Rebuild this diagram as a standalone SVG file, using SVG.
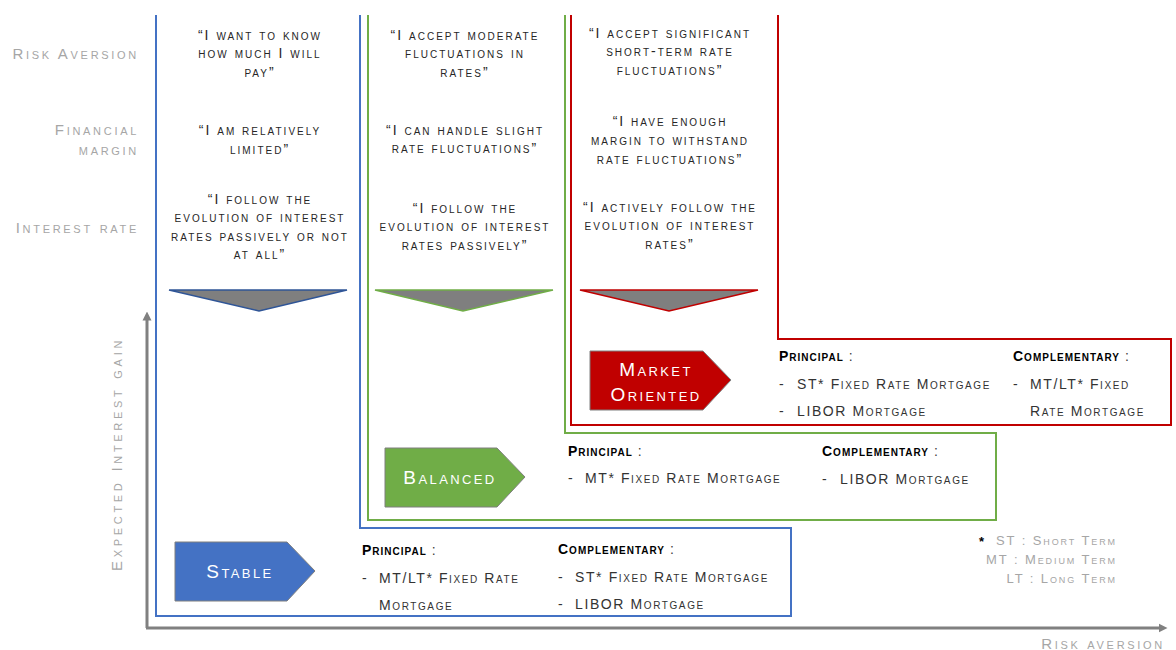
<svg xmlns="http://www.w3.org/2000/svg" width="1176" height="650" viewBox="0 0 1176 650">
<defs>
<marker id="ah" viewBox="0 0 10 10" refX="5" refY="5" markerWidth="3" markerHeight="3.4" orient="auto" markerUnits="strokeWidth">
<path d="M0,0 L10,5 L0,10 Z" fill="#808080"/>
</marker>
</defs>
<style>
text{font-family:"Liberation Sans",Arial,sans-serif;font-variant:small-caps}
.lbl{font-size:15px;fill:#a6a6a6;letter-spacing:2.7px;text-anchor:end}
.q{font-size:14px;fill:#262626;letter-spacing:2px;text-anchor:middle}
.t{font-size:14px;fill:#333;letter-spacing:1.6px}
.h{font-size:14px;font-weight:bold;fill:#000;letter-spacing:1px}
.c{font-size:14px;fill:#404040;font-weight:normal}
.w{font-size:19px;fill:#fff;letter-spacing:2.4px;text-anchor:middle}
.leg{font-size:13px;fill:#a6a6a6;letter-spacing:1.9px;text-anchor:end}
.ol{fill:none;stroke-width:2}
.tri{fill:#7f7f7f;stroke-width:1.5}
.pent{stroke:#7f7f7f;stroke-width:1}
.ax{stroke:#808080;stroke-width:3;fill:none}
</style>
<rect width="1176" height="650" fill="#fff"/>

<g id="axes">
<line class="ax" x1="147" y1="628" x2="147" y2="316" marker-end="url(#ah)"/>
<line class="ax" x1="146" y1="628" x2="1163" y2="628" marker-end="url(#ah)"/>
<text class="lbl" x="1165" y="649">Risk aversion</text>
<text class="lbl" transform="translate(122,454) rotate(-90)" style="text-anchor:middle;letter-spacing:3.7px">Expected Interest gain</text>
</g>

<g id="row-labels">
<text class="lbl" x="139" y="59">Risk Aversion</text>
<text class="lbl" x="139" y="135">Financial</text>
<text class="lbl" x="139" y="155">margin</text>
<text class="lbl" x="139" y="233">Interest rate</text>
</g>

<g id="connectors">
<path class="ol" stroke="#4472c4" d="M156,15 V616 H791 V528 H360 V15"/>
<path class="ol" stroke="#70ad47" d="M368,15 V520 H996 V433 H565 V15"/>
<path class="ol" stroke="#c00000" d="M571,15 V425 H1171 V339 H778 V15"/>
<polygon class="tri" stroke="#2f5597" points="169,290 347,290 259,311"/>
<polygon class="tri" stroke="#70ad47" points="375,290 553,290 463,311"/>
<polygon class="tri" stroke="#c00000" points="580,290 758,290 669,311"/>
</g>

<g id="stable-quotes">
<text class="q" x="260" y="40">“I want to know</text>
<text class="q" x="260" y="58">how much I will</text>
<text class="q" x="260" y="77">pay”</text>
<text class="q" x="260" y="135">“I am relatively</text>
<text class="q" x="260" y="154">limited”</text>
<text class="q" x="260" y="204">“I follow the</text>
<text class="q" x="260" y="222">evolution of interest</text>
<text class="q" x="260" y="241">rates passively or not</text>
<text class="q" x="260" y="259">at all”</text>
</g>

<g id="balanced-quotes">
<text class="q" x="465" y="40">“I accept moderate</text>
<text class="q" x="465" y="58">fluctuations in</text>
<text class="q" x="465" y="77">rates”</text>
<text class="q" x="465" y="135">“I can handle slight</text>
<text class="q" x="465" y="153">rate fluctuations”</text>
<text class="q" x="465" y="213">“I follow the</text>
<text class="q" x="465" y="231">evolution of interest</text>
<text class="q" x="465" y="250">rates passively”</text>
</g>

<g id="market-quotes">
<text class="q" x="670" y="38">“I accept significant</text>
<text class="q" x="670" y="56">short-term rate</text>
<text class="q" x="670" y="75">fluctuations”</text>
<text class="q" x="670" y="126">“I have enough</text>
<text class="q" x="670" y="145">margin to withstand</text>
<text class="q" x="670" y="164">rate fluctuations”</text>
<text class="q" x="670" y="212">“I actively follow the</text>
<text class="q" x="670" y="230">evolution of interest</text>
<text class="q" x="670" y="249">rates”</text>
</g>

<g id="stable">
<polygon class="pent" fill="#4472c4" points="175,542 287,542 315,571 287,601 175,601"/>
<text class="w" x="240" y="578">Stable</text>
<text class="h" x="362" y="555">Principal <tspan class="c">:</tspan></text>
<text class="t" x="362" y="583">-</text>
<text class="t" x="379" y="583">MT/LT* Fixed Rate</text>
<text class="t" x="379" y="610">Mortgage</text>
<text class="h" x="558" y="554">Complementary <tspan class="c">:</tspan></text>
<text class="t" x="558" y="582">-</text>
<text class="t" x="575" y="582">ST* Fixed Rate Mortgage</text>
<text class="t" x="558" y="609">-</text>
<text class="t" x="575" y="609">LIBOR Mortgage</text>
</g>

<g id="balanced">
<polygon class="pent" fill="#70ad47" points="385,448 497,448 525,477 497,507 385,507"/>
<text class="w" x="450" y="484">Balanced</text>
<text class="h" x="568" y="456">Principal <tspan class="c">:</tspan></text>
<text class="t" x="568" y="483">-</text>
<text class="t" x="585" y="483">MT* Fixed Rate Mortgage</text>
<text class="h" x="822" y="456">Complementary <tspan class="c">:</tspan></text>
<text class="t" x="822" y="484">-</text>
<text class="t" x="840" y="484">LIBOR Mortgage</text>
</g>

<g id="market-oriented">
<polygon class="pent" fill="#c00000" points="590,351 703,351 731,380 703,410 590,410"/>
<text class="w" x="656" y="376">Market</text>
<text class="w" x="656" y="401">Oriented</text>
<text class="h" x="779" y="361">Principal <tspan class="c">:</tspan></text>
<text class="t" x="779" y="389">-</text>
<text class="t" x="797" y="389">ST* Fixed Rate Mortgage</text>
<text class="t" x="779" y="416">-</text>
<text class="t" x="797" y="416">LIBOR Mortgage</text>
<text class="h" x="1013" y="361">Complementary <tspan class="c">:</tspan></text>
<text class="t" x="1013" y="389">-</text>
<text class="t" x="1030" y="389">MT/LT* Fixed</text>
<text class="t" x="1030" y="416">Rate Mortgage</text>
</g>

<g id="legend">
<text x="979" y="546" style="font-size:13px;font-weight:bold;fill:#000">*</text>
<text class="leg" x="1117" y="545">ST : Short Term</text>
<text class="leg" x="1117" y="564">MT : Medium Term</text>
<text class="leg" x="1117" y="583">LT : Long Term</text>
</g>
</svg>
